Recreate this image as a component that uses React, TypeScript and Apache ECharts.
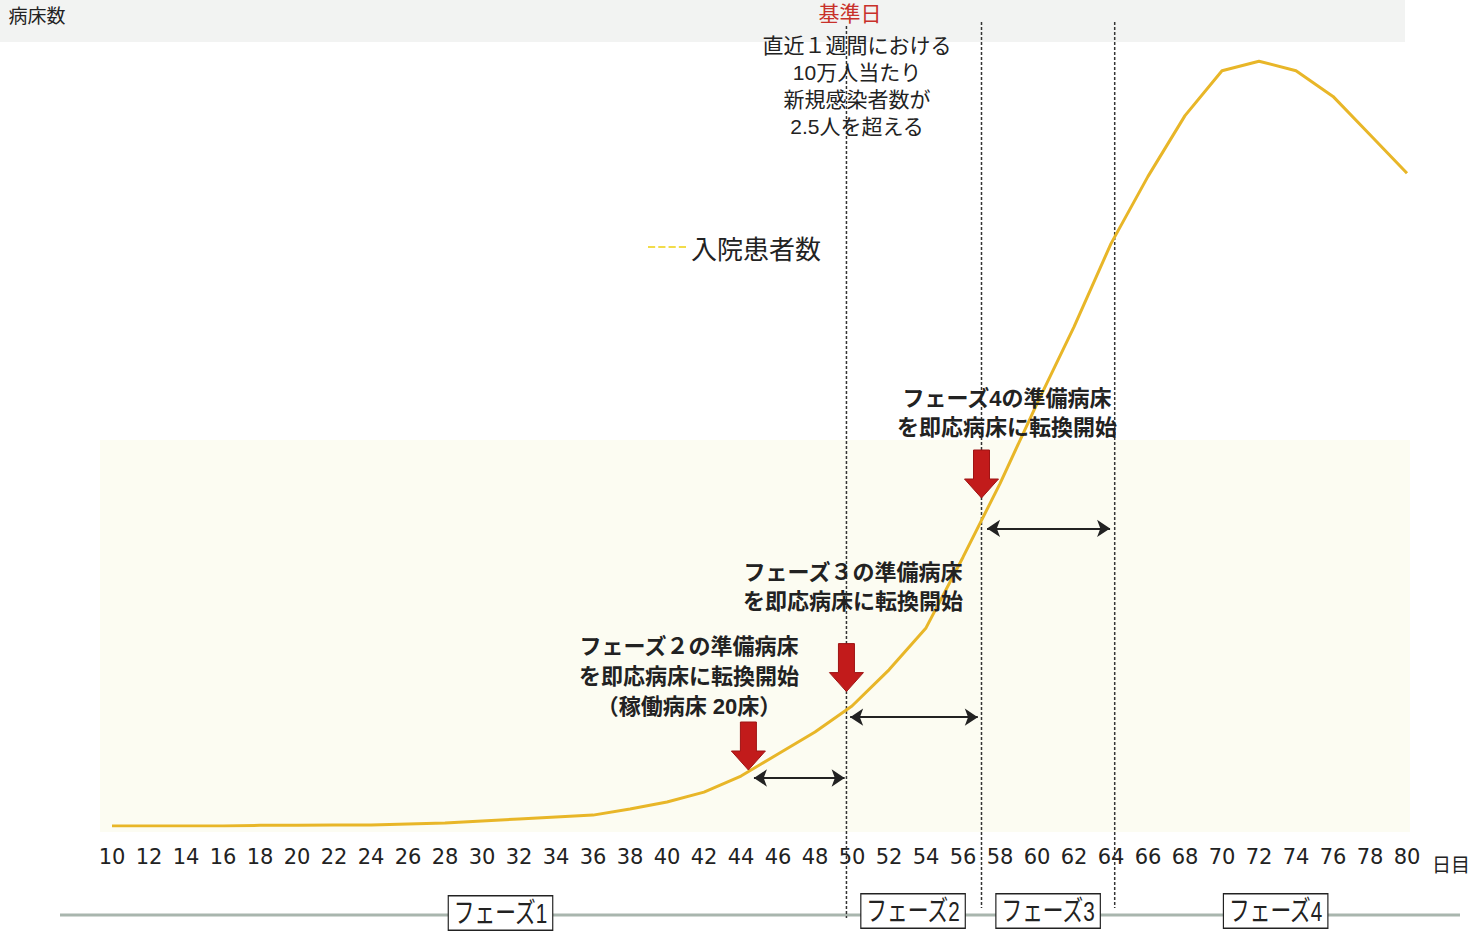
import React, { useEffect, useRef } from "react";
import * as echarts from "echarts";

// ---- data ----
const days = [10, 12, 14, 16, 18, 20, 22, 24, 26, 28, 30, 32, 34, 36, 38, 40, 42, 44, 46, 48, 50, 52, 54, 56, 58, 60, 62, 64, 66, 68, 70, 72, 74, 76, 78, 80];
const patients = [0, 0, 0, 0, 0.2, 0.2, 0.3, 0.3, 0.6, 0.9, 1.6, 2.2, 2.8, 3.4, 5.3, 7.5, 10.6, 15.6, 22.5, 29.4, 37.5, 48.8, 61.9, 84, 107, 132, 156, 182, 203, 222, 236, 239, 236, 228, 216, 204];
const seriesName = "入院患者数";
const yAxisName = "病床数";
const xAxisName = "日目";
const phaseBoundaryDays = [49.7, 57, 64.2];
const phaseNames = ["フェーズ1", "フェーズ2", "フェーズ3", "フェーズ4"];
const phaseLabelDays = [31, 53.3, 60.6, 72.9];
const alertArrowTips = [
  [44.4, 17.5],
  [49.7, 42],
  [57.0, 102.5],
];
const leadTimeSpans = [
  [44.7, 49.6, 15],
  [49.9, 56.8, 34],
  [57.3, 63.95, 93],
];
const baseDayTitle = "基準日";
const baseDayNote = ["直近１週間における", "10万人当たり", "新規感染者数が", "2.5人を超える"];
const phase2Note = ["フェーズ２の準備病床", "を即応病床に転換開始", "（稼働病床 20床）"];
const phase3Note = ["フェーズ３の準備病床", "を即応病床に転換開始"];
const phase4Note = ["フェーズ4の準備病床", "を即応病床に転換開始"];

const JP = '"Noto Sans CJK JP", "Noto Sans", sans-serif';
// Latin font first keeps the line box compact; Japanese glyphs fall back to Noto Sans CJK JP
const JP_TIGHT = '"Liberation Sans", "Noto Sans CJK JP", sans-serif';
const DASH_ICON = "path://M0 0h7v2H0z M10 0h7v2h-7z M20 0h7v2h-7z M30 0h7v2h-7z";

export default function App() {
  const ref = useRef<HTMLDivElement>(null);

  useEffect(() => {
    if (!ref.current) return;
    const chart = echarts.init(ref.current, undefined, { renderer: "svg" });

    const option: any = {
      animation: false,
      backgroundColor: "#ffffff",
      textStyle: { fontFamily: JP },
      grid: { left: 112, right: 76, top: 26, bottom: 108, containLabel: false },
      legend: {
        left: 648,
        top: 234,
        padding: 0,
        itemWidth: 38,
        itemHeight: 3,
        icon: DASH_ICON,
        itemStyle: { color: "#F2DC4A" },
        data: [{ name: seriesName, icon: DASH_ICON }],
        textStyle: { fontSize: 26, color: "#222", fontFamily: JP },
      },
      xAxis: {
        type: "value",
        min: 10,
        max: 80,
        interval: 2,
        axisLine: { show: false },
        axisTick: { show: false },
        splitLine: { show: false },
        axisLabel: { fontSize: 21, color: "#222", margin: 20, fontFamily: '"DejaVu Sans", sans-serif' },
      },
      yAxis: {
        type: "value",
        min: 0,
        max: 250,
        name: yAxisName,
        nameLocation: "end",
        nameGap: 2,
        nameTextStyle: { fontSize: 19, color: "#222", fontFamily: JP, padding: [0, 150, 0, 0] },
        axisLine: { show: false },
        axisTick: { show: false },
        axisLabel: { show: false },
        splitLine: { show: false },
      },
      series: [
        {
          name: seriesName,
          type: "line",
          data: days.map((d, i) => [d, patients[i]]),
          showSymbol: false,
          symbol: "none",
          smooth: false,
          z: 5,
          lineStyle: { color: "#E8B628", width: 3 },
          itemStyle: { color: "#E8B628" },
          markLine: {
            silent: true,
            symbol: ["arrow", "arrow"],
            symbolSize: 13,
            label: { show: false },
            lineStyle: { color: "#222", width: 2, type: "solid" },
            data: leadTimeSpans.map(([a, b, v]) => [{ coord: [a, v] }, { coord: [b, v] }]),
          },
        },
      ],
    };
    chart.setOption(option);

    const px = (x: number, y: number) => chart.convertToPixel({ xAxisIndex: 0, yAxisIndex: 0 }, [x, y]) as number[];

    const g: any[] = [];
    // faint scan tints
    g.push({ type: "rect", z: -10, shape: { x: 0, y: 0, width: 1405, height: 42 }, style: { fill: "#f2f3f2" }, silent: true });
    g.push({ type: "rect", z: -10, shape: { x: 100, y: 440, width: 1310, height: 392 }, style: { fill: "#fcfcf2" }, silent: true });
    // bottom rule
    g.push({ type: "line", z: 1, shape: { x1: 60, y1: 915, x2: 1460, y2: 915 }, style: { stroke: "#a9b6ae", lineWidth: 3 } });

    // x axis unit
    g.push({
      type: "text",
      z: 30,
      x: 1432,
      y: 863,
      style: { text: xAxisName, fontSize: 19, fontFamily: JP, fill: "#222", align: "left", verticalAlign: "middle" },
    });

    // dashed phase boundaries
    phaseBoundaryDays.forEach((d, i) => {
      const x = px(d, 0)[0];
      g.push({
        type: "line",
        z: 3,
        shape: { x1: x, y1: i === 0 ? 26 : 22, x2: x, y2: i === 0 ? 918 : 908 },
        style: { stroke: "#333", lineWidth: 1.5, lineDash: [3, 2] },
      });
    });

    // red arrows
    alertArrowTips.forEach(([d, v]) => {
      const [tx, ty] = px(d, v);
      g.push({
        type: "polygon",
        z: 20,
        shape: {
          points: [
            [tx - 8, ty - 48],
            [tx + 8, ty - 48],
            [tx + 8, ty - 19],
            [tx + 17, ty - 19],
            [tx, ty],
            [tx - 17, ty - 19],
            [tx - 8, ty - 19],
          ],
        },
        style: { fill: "#C21B1B", stroke: "#9e1414", lineWidth: 1 },
      });
    });

    // phase boxes
    phaseNames.forEach((name, i) => {
      const x = px(phaseLabelDays[i], 0)[0];
      g.push({
        type: "text",
        z: 30,
        x,
        y: i === 0 ? 913 : 911,
        scaleX: 0.74,
        style: {
          text: name,
          fontSize: 28,
          fontFamily: JP_TIGHT,
          fill: "#222",
          align: "center",
          verticalAlign: "middle",
          backgroundColor: "#fff",
          borderColor: "#222",
          borderWidth: 1.6,
          padding: [3, 6, 2, 6],
        },
      });
    });

    // base day title + note
    g.push({
      type: "text",
      z: 30,
      x: 850,
      y: 13,
      style: { text: baseDayTitle, fontSize: 21, fontFamily: JP_TIGHT, fill: "#C8302A", align: "center", verticalAlign: "middle" },
    });
    g.push({
      type: "text",
      z: 30,
      x: 857,
      y: 85.5,
      style: {
        text: baseDayNote.join("\n"),
        fontSize: 21,
        lineHeight: 27,
        fontFamily: JP_TIGHT,
        fill: "#222",
        align: "center",
        verticalAlign: "middle",
      },
    });

    const bold = (lines: string[], cx: number, yc: number, lh: number) =>
      g.push({
        type: "text",
        z: 30,
        x: cx,
        y: yc,
        style: {
          text: lines.join("\n"),
          fontSize: 22,
          lineHeight: lh,
          fontWeight: "bold",
          fontFamily: JP_TIGHT,
          fill: "#222",
          align: "center",
          verticalAlign: "middle",
        },
      });
    bold(phase2Note, 689, 676, 30);
    bold(phase3Note, 853, 586.5, 29);
    bold(phase4Note, 1007, 412.5, 29);

    chart.setOption({ graphic: g });

    return () => chart.dispose();
  }, []);

  return <div ref={ref} style={{ position: "fixed", left: 0, top: 0, width: 1483, height: 934 }} />;
}
